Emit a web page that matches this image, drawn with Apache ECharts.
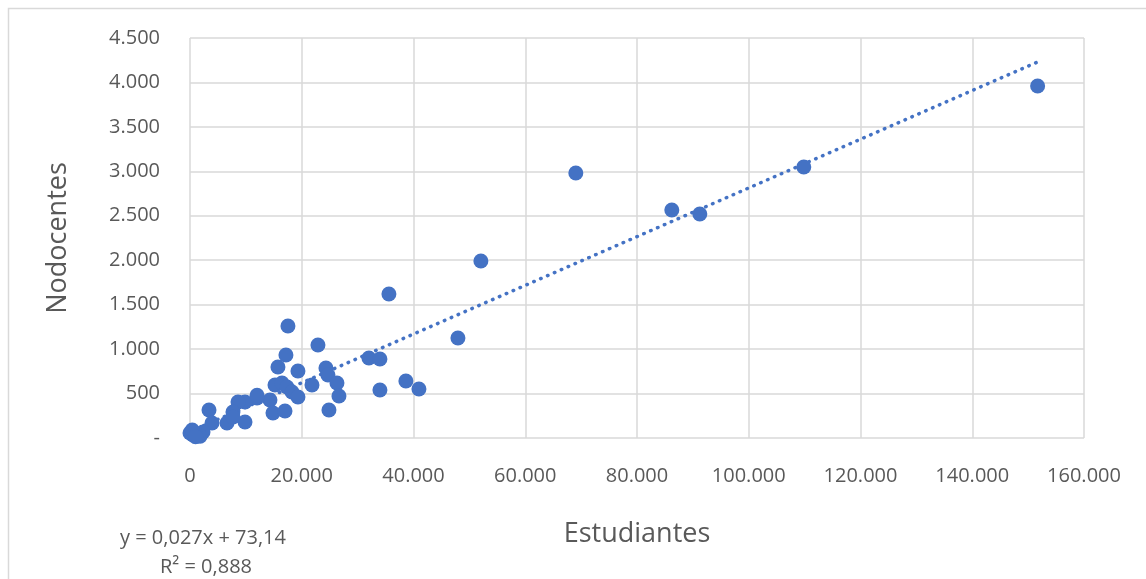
<!DOCTYPE html>
<html>
<head>
<meta charset="utf-8">
<script src="https://cdn.jsdelivr.net/npm/echarts@6/dist/echarts.min.js"></script>
<style>
html,body{margin:0;padding:0;background:#fff;}
#chart{width:1146px;height:579px;}
</style>
</head>
<body>
<div id="chart"></div>
<script>
// Estudiantes (x) and Nodocentes (y) per institution
var estudiantes = [151700,109850,91240,86230,69050,52060,47950,35600,32020,33990,38640,40970,33990,17530,22900,17170,15740,19320,24330,24690,26300,26660,24870,21830,15210,16460,17350,18250,19320,14310,14850,17000,11990,9840,8590,9840,6620,7690,3400,3940,2330,540,0,1800,400,1000,12000,7700];
var nodocentes = [3960,3049,2520,2565,2981,1991,1125,1620,900,889,641,551,540,1260,1046,934,799,754,788,709,619,473,315,596,596,619,574,518,461,428,281,304,450,405,405,180,169,293,315,169,68,34,56,20,90,15,480,236];
var trendSlope = 0.0274;
var trendIntercept = 73.14;
var equationText = ['y = 0,027x + 73,14', 'R² = 0,888'];
var xTitle = 'Estudiantes';
var yTitle = 'Nodocentes';

var points = estudiantes.map(function(x, i){ return [x, nodocentes[i]]; });
var xmin = Math.min.apply(null, estudiantes), xmax = Math.max.apply(null, estudiantes);
var trend = [[xmin, trendSlope*xmin + trendIntercept], [xmax, trendSlope*xmax + trendIntercept]];

function fmt(v){
  return String(v).replace(/\B(?=(\d{3})+(?!\d))/g, '.');
}
var FONT = 'Open Sans';
var chart = echarts.init(document.getElementById('chart'));
chart.setOption({
  animation: false,
  backgroundColor: '#ffffff',
  grid: {left: 190, right: 62, top: 38, bottom: 141},
  graphic: [
    {type: 'rect', shape: {x: 8.5, y: 8.5, width: 1300, height: 700}, style: {fill: 'none', stroke: '#d9d9d9', lineWidth: 1.5}, z: -10},
    {type: 'text', left: 120, top: 528, style: {text: equationText[0], font: '20px "Open Sans"', fill: '#595959'}},
    {type: 'text', left: 160, top: 557, style: {text: equationText[1], font: '20px "Open Sans"', fill: '#595959'}}
  ],
  xAxis: {
    type: 'value', min: 0, max: 160000, interval: 20000,
    name: xTitle, nameLocation: 'middle', nameGap: 83,
    nameTextStyle: {fontFamily: FONT, fontSize: 27, color: '#595959'},
    axisLine: {show: false}, axisTick: {show: false},
    axisLabel: {fontFamily: FONT, fontSize: 20, color: '#595959', margin: 28,
      formatter: function(v){ return v === 0 ? '0' : fmt(v); }},
    splitLine: {show: true, lineStyle: {color: '#d9d9d9', width: 1.5}}
  },
  yAxis: {
    type: 'value', min: 0, max: 4500, interval: 500,
    name: yTitle, nameLocation: 'middle', nameGap: 118,
    nameTextStyle: {fontFamily: FONT, fontSize: 27, color: '#595959'},
    axisLine: {show: false}, axisTick: {show: false},
    axisLabel: {fontFamily: FONT, fontSize: 20, color: '#595959', margin: 30,
      formatter: function(v){ return v === 0 ? '-' : fmt(v); }},
    splitLine: {show: true, lineStyle: {color: '#d9d9d9', width: 1.5}}
  },
  series: [
    {
      type: 'line', data: trend, symbol: 'none', z: 1, silent: true,
      lineStyle: {color: '#4472C4', width: 3.5, type: [0.5, 7], cap: 'round'}
    },
    {
      type: 'scatter', data: points, symbol: 'circle', symbolSize: 15, z: 3,
      itemStyle: {color: '#4472C4', opacity: 1}
    }
  ]
});
</script>
</body>
</html>
